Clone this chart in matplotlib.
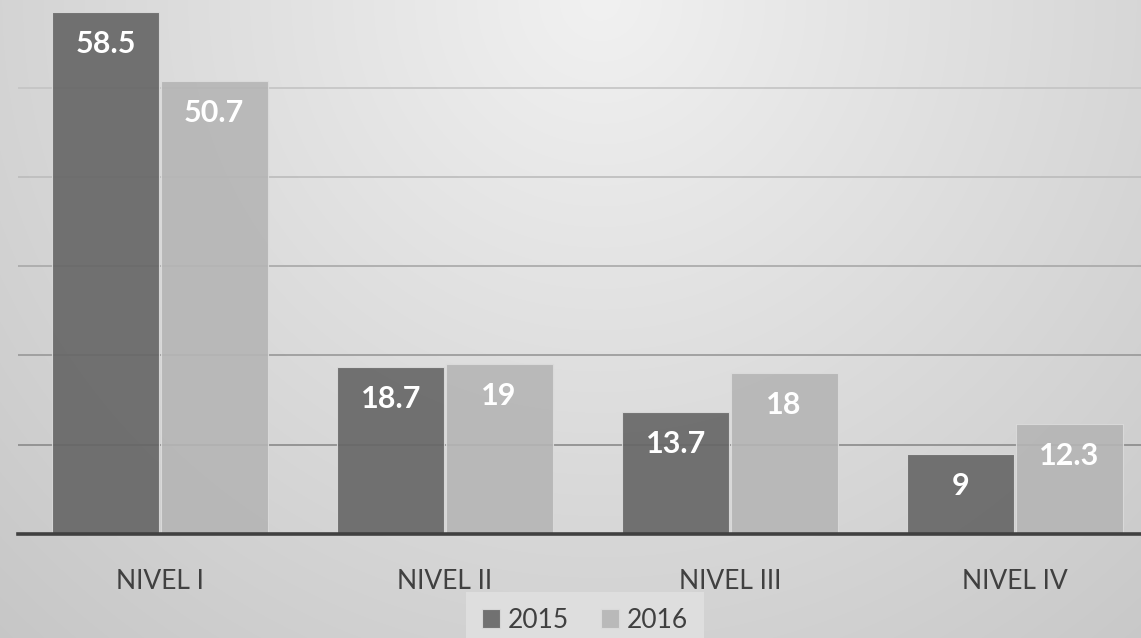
import numpy as np
import matplotlib
matplotlib.use("Agg")
import matplotlib.pyplot as plt

categories = ["NIVEL I", "NIVEL II", "NIVEL III", "NIVEL IV"]
series_names = ["2015", "2016"]
values_2015 = [58.5, 18.7, 13.7, 9]
values_2016 = [50.7, 19, 18, 12.3]
grid_ticks = [0, 10, 20, 30, 40, 50]

plt.rcParams['font.family'] = ['Lato', 'DejaVu Sans']

W, H = 1141, 638
fig = plt.figure(figsize=(W / 100, H / 100), dpi=100)

# background gradient
bg = fig.add_axes([0, 0, 1, 1], zorder=-10)
yy, xx = np.mgrid[0:H, 0:W]
d = np.sqrt((xx - 600.0) ** 2 + (yy - 0.0) ** 2)
v = np.clip(0.945 - 0.00019 * d, 0, 1)
bg.imshow(np.dstack([v, v, v]), aspect='auto', extent=[0, 1, 0, 1], interpolation='bilinear')
bg.set_axis_off()

# main axes
px_per_unit = 8.93
ax_left = 17.5 / W
ax_width = 4 * 285 / W
ax_bottom = (H - 534) / H
ax_height = 534 / H
ax = fig.add_axes([ax_left, ax_bottom, ax_width, ax_height])
ax.set_facecolor('none')
ax.set_xlim(-0.5, 3.5)
ax.set_ylim(0, 534 / px_per_unit)

x = np.arange(len(categories))
bw = 0.375
off = 0.19
b1 = ax.bar(x - off, values_2015, bw, color='#656565', alpha=0.9, edgecolor='#dcdcdc',
            linewidth=0.8, label=series_names[0], zorder=3)
b2 = ax.bar(x + off, values_2016, bw, color='#b5b5b5', alpha=0.9, edgecolor='#dcdcdc',
            linewidth=0.8, label=series_names[1], zorder=3)

for bars, vals in ((b1, values_2015), (b2, values_2016)):
    for rect, val in zip(bars, vals):
        ax.annotate(f"{val:g}", (rect.get_x() + rect.get_width() / 2, rect.get_height()),
                    xytext=(0, -23), textcoords='offset points', ha='center', va='center',
                    color='white', fontsize=22, fontweight='bold', zorder=5)

ax.set_yticks(grid_ticks)
ax.yaxis.grid(True, linewidth=1.2, zorder=0)
ax.set_axisbelow(True)
grid_colors = ['#8a8a8a', '#8a8a8a', '#989898', '#a8a8a8', '#bcbcbc', '#c4c4c4']
for line, c in zip(ax.get_ygridlines(), grid_colors):
    line.set_color(c)
ax.tick_params(axis='y', left=False, labelleft=False)
ax.tick_params(axis='x', bottom=False, pad=21.5, labelsize=19, labelcolor='#404040')
ax.set_xticks(x)
ax.set_xticklabels(categories)
for s in ['top', 'right', 'left']:
    ax.spines[s].set_visible(False)
ax.spines['bottom'].set_color('#404040')
ax.spines['bottom'].set_linewidth(2.6)
ax.spines['bottom'].set_zorder(6)

leg = fig.legend(handles=[b1, b2], labels=series_names, loc='center',
                 bbox_to_anchor=(585 / W, (H - 620) / H), ncol=2, fontsize=19,
                 frameon=True, fancybox=False, facecolor='#dedede', edgecolor='none',
                 framealpha=1, handlelength=0.7, handleheight=0.7, handletextpad=0.3,
                 columnspacing=1.2, borderpad=0.6)
for t in leg.get_texts():
    t.set_color('#404040')

fig.savefig('out.png', dpi=100)
